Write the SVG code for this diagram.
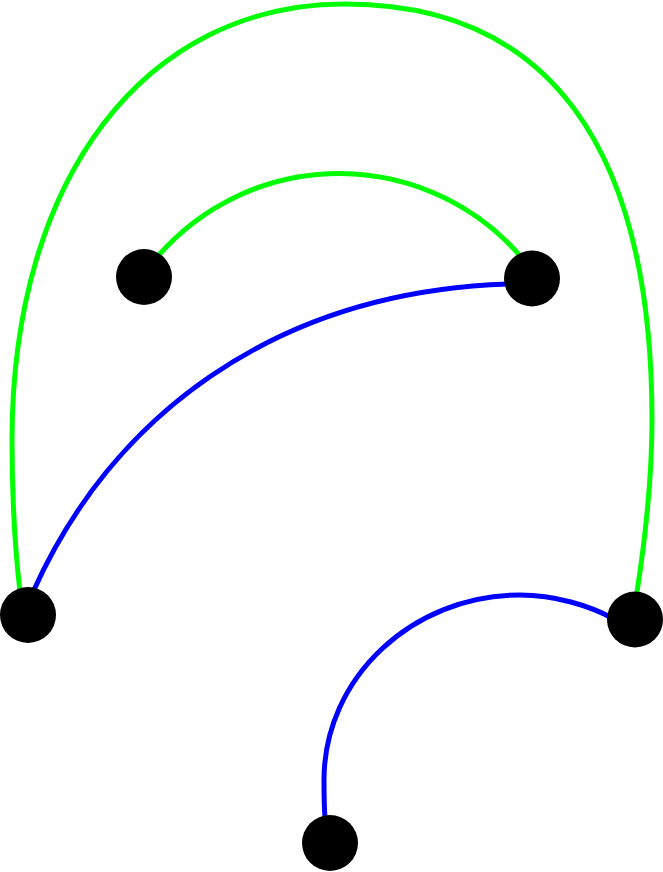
<svg xmlns="http://www.w3.org/2000/svg" width="663" height="872" viewBox="0 0 663 872">
<style>
.e{fill:none;stroke-width:5}
.g{stroke:#00ff00}
.b{stroke:#0000ff}
.n{fill:#000}
</style>
<rect width="663" height="872" fill="#fff"/>
<g id="edges">
<path class="e g" d="M20,592 C14,540 12,480 12,440 C12,178 145,4 345,4 C547,4 652,145 652,420 C652,480 645,540 637,592"/>
<path class="e g" d="M158,256 A240 240 0 0 1 522,258"/>
<path class="e b" d="M33,592 C110,420 270,292 508,284"/>
<path class="e b" d="M325,818 C324,805 324,795 324,780 C324,678 412,595 520,595 C555,595 590,606 612,618"/>
</g>
<g id="n1"><circle class="n" cx="144" cy="277" r="28"/></g>
<g id="n2"><circle class="n" cx="532" cy="278.5" r="28"/></g>
<g id="n3"><circle class="n" cx="28" cy="615" r="28"/></g>
<g id="n4"><circle class="n" cx="635" cy="619.5" r="28"/></g>
<g id="n5"><circle class="n" cx="330" cy="843" r="28"/></g>
</svg>
